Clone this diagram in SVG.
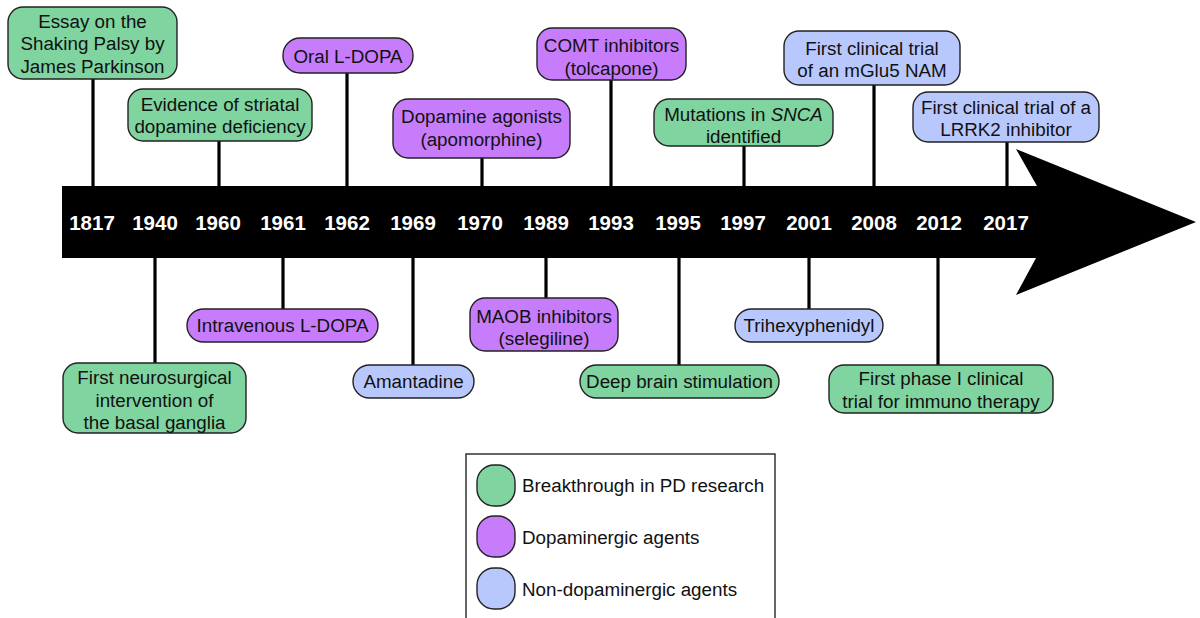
<svg xmlns="http://www.w3.org/2000/svg" width="1200" height="618" viewBox="0 0 1200 618">
<style>
.box{stroke:#222;stroke-width:1.4}
.g{fill:#80d4a0}
.p{fill:#c77dfb}
.b{fill:#b9c8fc}
.t{font-family:"Liberation Sans",Arial,sans-serif;font-size:18.8px;fill:#111;text-anchor:middle}
.yr{font-family:"Liberation Sans",Arial,sans-serif;font-size:20.5px;font-weight:bold;fill:#fff;text-anchor:middle}
.stem{stroke:#000;stroke-width:3.2;fill:none}
.lt{font-family:"Liberation Sans",Arial,sans-serif;font-size:18.8px;fill:#111}
</style>
<rect width="1200" height="618" fill="#fff"/>
<g id="connectors">
<line class="stem" x1="93" y1="79" x2="93" y2="188"/>
<line class="stem" x1="219" y1="141" x2="219" y2="188"/>
<line class="stem" x1="347" y1="73" x2="347" y2="188"/>
<line class="stem" x1="482" y1="158" x2="482" y2="188"/>
<line class="stem" x1="611" y1="80" x2="611" y2="188"/>
<line class="stem" x1="744" y1="146" x2="744" y2="188"/>
<line class="stem" x1="874" y1="85" x2="874" y2="188"/>
<line class="stem" x1="1007" y1="142" x2="1007" y2="188"/>
<line class="stem" x1="155" y1="256" x2="155" y2="363"/>
<line class="stem" x1="283" y1="256" x2="283" y2="309"/>
<line class="stem" x1="413" y1="256" x2="413" y2="365"/>
<line class="stem" x1="546" y1="256" x2="546" y2="298"/>
<line class="stem" x1="679" y1="256" x2="679" y2="365"/>
<line class="stem" x1="809" y1="256" x2="809" y2="309"/>
<line class="stem" x1="938" y1="256" x2="938" y2="365"/>
</g>
<g id="timeline">
<path d="M62,186 L1037,186 L1016,149 L1196,222 L1016,295 L1036,258 L62,258 Z" fill="#000"/>
<text class="yr" x="92" y="229.5">1817</text>
<text class="yr" x="155" y="229.5">1940</text>
<text class="yr" x="218" y="229.5">1960</text>
<text class="yr" x="283" y="229.5">1961</text>
<text class="yr" x="347" y="229.5">1962</text>
<text class="yr" x="413" y="229.5">1969</text>
<text class="yr" x="480" y="229.5">1970</text>
<text class="yr" x="546" y="229.5">1989</text>
<text class="yr" x="611" y="229.5">1993</text>
<text class="yr" x="678" y="229.5">1995</text>
<text class="yr" x="743" y="229.5">1997</text>
<text class="yr" x="809" y="229.5">2001</text>
<text class="yr" x="874" y="229.5">2008</text>
<text class="yr" x="939" y="229.5">2012</text>
<text class="yr" x="1006" y="229.5">2017</text>
</g>
<g id="n1817">
<rect class="box g" x="8" y="7" width="169" height="72" rx="15"/>
<text class="t" x="92.5" y="27.5">Essay on the</text>
<text class="t" x="92.5" y="50">Shaking Palsy by</text>
<text class="t" x="92.5" y="72.5">James Parkinson</text>
</g>
<g id="n1960">
<rect class="box g" x="128" y="89" width="184" height="52" rx="15"/>
<text class="t" x="220" y="110.5">Evidence of striatal</text>
<text class="t" x="220" y="132.5">dopamine deficiency</text>
</g>
<g id="n1962">
<rect class="box p" x="283" y="38" width="130" height="35" rx="17"/>
<text class="t" x="348" y="62.5">Oral L-DOPA</text>
</g>
<g id="n1970">
<rect class="box p" x="393" y="99" width="177" height="59" rx="15"/>
<text class="t" x="481.5" y="122.5">Dopamine agonists</text>
<text class="t" x="481.5" y="145.5">(apomorphine)</text>
</g>
<g id="n1993">
<rect class="box p" x="537" y="28" width="149" height="52" rx="15"/>
<text class="t" x="611.5" y="51.5">COMT inhibitors</text>
<text class="t" x="611.5" y="74.5">(tolcapone)</text>
</g>
<g id="n1997">
<rect class="box g" x="654" y="99" width="179" height="47" rx="15"/>
<text class="t" x="743.5" y="120.5">Mutations in <tspan font-style="italic">SNCA</tspan></text>
<text class="t" x="743.5" y="142.5">identified</text>
</g>
<g id="n2008">
<rect class="box b" x="784" y="31" width="176" height="54" rx="15"/>
<text class="t" x="872" y="54.5">First clinical trial</text>
<text class="t" x="872" y="76.5">of an mGlu5 NAM</text>
</g>
<g id="n2017">
<rect class="box b" x="913" y="92" width="186" height="50" rx="15"/>
<text class="t" x="1006" y="113.5">First clinical trial of a</text>
<text class="t" x="1006" y="135.5">LRRK2 inhibitor</text>
</g>
<g id="n1940">
<rect class="box g" x="63" y="363" width="183" height="70" rx="15"/>
<text class="t" x="154.5" y="384">First neurosurgical</text>
<text class="t" x="154.5" y="406.5">intervention of</text>
<text class="t" x="154.5" y="429">the basal ganglia</text>
</g>
<g id="n1961">
<rect class="box p" x="187" y="309" width="191" height="33" rx="16.5"/>
<text class="t" x="282.5" y="332">Intravenous L-DOPA</text>
</g>
<g id="n1969">
<rect class="box b" x="353" y="365" width="121" height="33" rx="16.5"/>
<text class="t" x="413.5" y="388">Amantadine</text>
</g>
<g id="n1989">
<rect class="box p" x="470" y="298" width="148" height="53" rx="15"/>
<text class="t" x="544" y="322.5">MAOB inhibitors</text>
<text class="t" x="544" y="344.5">(selegiline)</text>
</g>
<g id="n1995">
<rect class="box g" x="580" y="365" width="199" height="33" rx="16.5"/>
<text class="t" x="679.5" y="388">Deep brain stimulation</text>
</g>
<g id="n2001">
<rect class="box b" x="735" y="309" width="148" height="33" rx="16.5"/>
<text class="t" x="809" y="332">Trihexyphenidyl</text>
</g>
<g id="n2012">
<rect class="box g" x="829" y="365" width="224" height="48" rx="15"/>
<text class="t" x="941" y="385">First phase I clinical</text>
<text class="t" x="941" y="407.5">trial for immuno therapy</text>
</g>
<g id="legend">
<rect x="466" y="454" width="309" height="170" fill="#fff" stroke="#333" stroke-width="1.5"/>
<rect class="box g" x="477" y="465" width="38" height="41" rx="17"/>
<text class="lt" x="522" y="492">Breakthrough in PD research</text>
<rect class="box p" x="477" y="516" width="38" height="41" rx="17"/>
<text class="lt" x="522" y="543.5">Dopaminergic agents</text>
<rect class="box b" x="477" y="568" width="38" height="41" rx="17"/>
<text class="lt" x="522" y="595.5">Non-dopaminergic agents</text>
</g>
</svg>
